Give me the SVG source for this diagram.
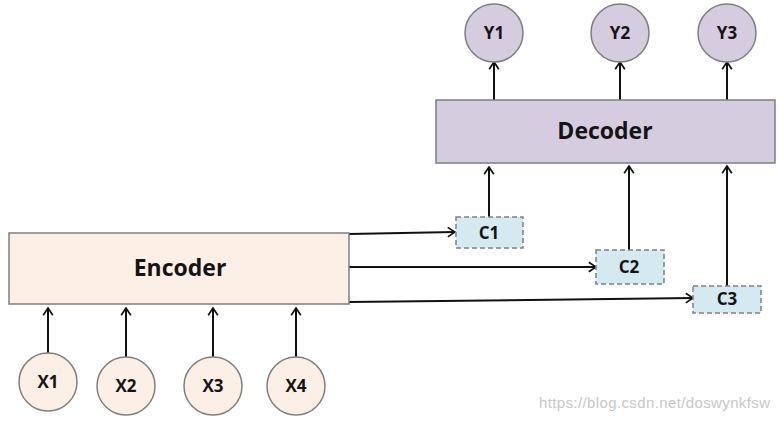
<svg xmlns="http://www.w3.org/2000/svg" width="780" height="421" viewBox="0 0 780 421">
<style>
.lbl{font-family:"Open Sans","Liberation Sans",sans-serif;font-weight:bold;fill:#141414;text-anchor:middle;dominant-baseline:central}
.big{font-size:23px}
.sm{font-size:17px}
.enc{fill:#fcefe5;stroke:#7f7f7f;stroke-width:1.5}
.dec{fill:#d5cce0;stroke:#7f7f7f;stroke-width:1.5}
.ctx{fill:#d4e9f0;stroke:#808080;stroke-width:1.5;stroke-dasharray:5,3}
.edge{fill:none;stroke:#111;stroke-width:2;marker-end:url(#ah)}
</style>
<defs>
<marker id="ah" viewBox="0 0 10 10" refX="9" refY="5" markerWidth="12" markerHeight="12" markerUnits="userSpaceOnUse" orient="auto">
<path d="M3,1 L9,5 L3,9" fill="none" stroke="#111" stroke-width="1.4"/>
</marker>
</defs>
<rect width="780" height="421" fill="#ffffff"/>
<g id="connectors">
<path class="edge" d="M48,353 V308"/>
<path class="edge" d="M126,357 V308"/>
<path class="edge" d="M213,357 V308"/>
<path class="edge" d="M296,357 V308"/>
<path class="edge" d="M494,100 V62"/>
<path class="edge" d="M620,100 V62"/>
<path class="edge" d="M727,100 V62"/>
<path class="edge" d="M489,217 V167"/>
<path class="edge" d="M629,250 V166"/>
<path class="edge" d="M727,286 V166"/>
<path class="edge" d="M349,234 L455,232"/>
<path class="edge" d="M349,267 L596,267"/>
<path class="edge" d="M349,302 L693,298"/>
</g>
<g id="encoder"><rect class="enc" x="9" y="233" width="340" height="71"/><text class="lbl big" x="180" y="267">Encoder</text></g>
<g id="decoder"><rect class="dec" x="436" y="100" width="339" height="63"/><text class="lbl big" x="605" y="130">Decoder</text></g>
<g id="x1"><circle class="enc" cx="48" cy="382" r="29"/><text class="lbl sm" x="48" y="381">X1</text></g>
<g id="x2"><circle class="enc" cx="126" cy="386" r="29"/><text class="lbl sm" x="126" y="385">X2</text></g>
<g id="x3"><circle class="enc" cx="213" cy="386" r="29"/><text class="lbl sm" x="213" y="385">X3</text></g>
<g id="x4"><circle class="enc" cx="296" cy="386" r="29"/><text class="lbl sm" x="296" y="385">X4</text></g>
<g id="y1"><circle class="dec" cx="494" cy="33" r="29"/><text class="lbl sm" x="494" y="32">Y1</text></g>
<g id="y2"><circle class="dec" cx="620" cy="33" r="29"/><text class="lbl sm" x="620" y="32">Y2</text></g>
<g id="y3"><circle class="dec" cx="727" cy="33" r="29"/><text class="lbl sm" x="727" y="32">Y3</text></g>
<g id="c1"><rect class="ctx" x="456" y="217" width="67" height="31"/><text class="lbl sm" x="489" y="232">C1</text></g>
<g id="c2"><rect class="ctx" x="596" y="250" width="68" height="34"/><text class="lbl sm" x="629" y="266">C2</text></g>
<g id="c3"><rect class="ctx" x="693" y="286" width="68" height="27"/><text class="lbl sm" x="727" y="298">C3</text></g>
<text x="539" y="408" font-family="Liberation Sans, Arial, sans-serif" font-size="15" fill="#c8c8c8" textLength="231">https://blog.csdn.net/doswynkfsw</text>
</svg>
